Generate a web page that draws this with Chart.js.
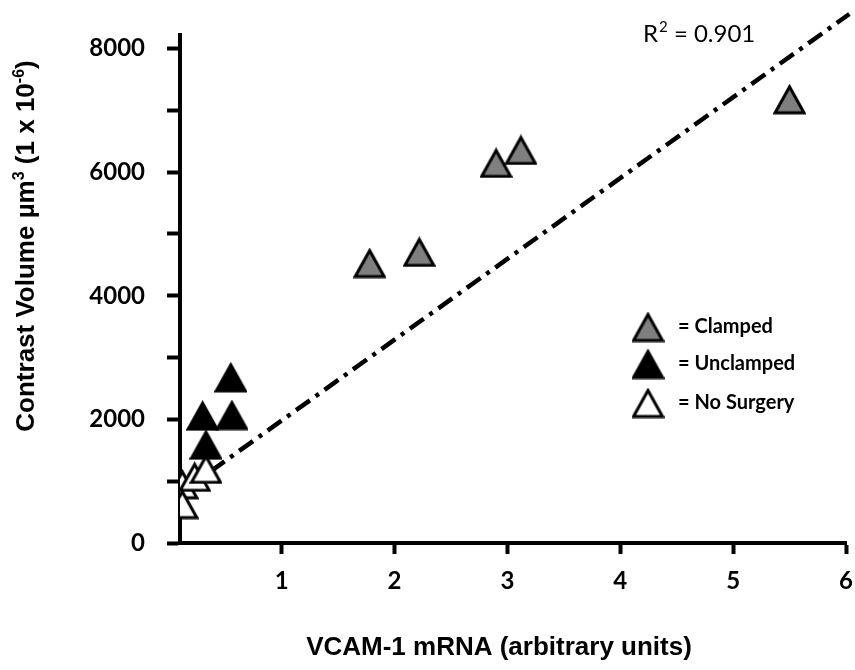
<!DOCTYPE html>
<html>
<head>
<meta charset="utf-8">
<script src="https://cdn.jsdelivr.net/npm/chart.js@4/dist/chart.umd.min.js"></script>
<style>
  html, body { margin: 0; padding: 0; background: #fff; }
  #wrap { width: 855px; height: 670px; }
</style>
</head>
<body>
<div id="wrap"><canvas id="grafica" width="855" height="670"></canvas></div>
<script>
// ── Datos ───────────────────────────────────────────────────────────────
const clampedX = [1.78, 2.22, 2.90, 3.12, 5.50];
const clampedY = [4530, 4710, 6150, 6360, 7180];

const unclampedX = [0.55, 0.30, 0.56, 0.33];
const unclampedY = [2680, 2060, 2070, 1590];

const noSurgeryX = [0.12, 0.23, 0.33, 0.12];
const noSurgeryY = [950, 1070, 1200, 630];

// línea de tendencia (extremos)
const trendX = [0.12, 6.03];
const trendY = [830, 8560];

const xTickValues = [1, 2, 3, 4, 5, 6];
const yTickValues = [0, 1000, 2000, 3000, 4000, 5000, 6000, 7000, 8000];
const yTickLabels = ['0', '', '2000', '', '4000', '', '6000', '', '8000'];

const seriesNames = ['= Clamped', '= Unclamped', '= No Surgery'];
const rSquaredText = '0.901';
const xTitle = 'VCAM-1 mRNA (arbitrary units)';

// ── Marcadores triangulares ─────────────────────────────────────────────
function crearTriangulo(relleno, w, h, lw) {
    const c = document.createElement('canvas');
    c.width = w;
    c.height = h;
    const g = c.getContext('2d');
    const m = lw / 2 + 0.5;
    g.beginPath();
    g.moveTo(w / 2, m + 1);
    g.lineTo(w - m, h - m);
    g.lineTo(m, h - m);
    g.closePath();
    g.fillStyle = relleno;
    g.fill();
    g.lineWidth = lw;
    g.lineJoin = 'miter';
    g.strokeStyle = '#000';
    g.stroke();
    return c;
}

const triGris = crearTriangulo('#7f7f7f', 33, 31, 3);
const triNegro = crearTriangulo('#000000', 33, 31, 3);
const triBlanco = crearTriangulo('#ffffff', 33, 31, 3);

const puntos = (xs, ys) => xs.map((x, i) => ({ x, y: ys[i] }));

// ── Textos extra (títulos, R², leyenda) ────────────────────────────────
function dibujarTramos(ctx, tramos, cx, baseY, familia, peso) {
    let total = 0;
    tramos.forEach(t => {
        ctx.font = `${peso} ${t.size}px ${familia}`;
        t.w = ctx.measureText(t.text).width;
        total += t.w;
    });
    let x = cx - total / 2;
    ctx.textAlign = 'left';
    ctx.textBaseline = 'alphabetic';
    tramos.forEach(t => {
        ctx.font = `${peso} ${t.size}px ${familia}`;
        ctx.fillText(t.text, x, baseY - (t.rise || 0));
        x += t.w;
    });
}

const textosPlugin = {
    id: 'textos',
    afterDraw(chart) {
        const ctx = chart.ctx;
        ctx.save();
        ctx.fillStyle = '#000';

        // título eje X
        dibujarTramos(ctx, [{ text: xTitle, size: 26 }], 499, 655, '"Liberation Sans", Arial, sans-serif', 'bold');

        // título eje Y (rotado)
        ctx.save();
        ctx.translate(0, 246);
        ctx.rotate(-Math.PI / 2);
        dibujarTramos(ctx, [
            { text: 'Contrast Volume µm', size: 26 },
            { text: '3', size: 16, rise: 10 },
            { text: ' (1 x 10', size: 26 },
            { text: '-6', size: 16, rise: 10 },
            { text: ')', size: 26 },
        ], 0, 34, '"Liberation Sans", Arial, sans-serif', 'bold');
        ctx.restore();

        // R²
        ctx.font = '24px Lato, sans-serif';
        ctx.textAlign = 'left';
        ctx.textBaseline = 'alphabetic';
        ctx.fillText('R', 643, 42);
        let x = 643 + ctx.measureText('R').width;
        ctx.font = '15px Lato, sans-serif';
        ctx.fillText('2', x + 1, 32);
        x += ctx.measureText('2').width + 1;
        ctx.font = '24px Lato, sans-serif';
        ctx.fillText(' = ' + rSquaredText, x, 42);

        // leyenda
        const imgs = [triGris, triNegro, triBlanco];
        const centrosY = [327, 364, 403];
        ctx.font = 'bold 20px Lato, sans-serif';
        imgs.forEach((img, i) => {
            ctx.drawImage(img, 648 - img.width / 2, centrosY[i] - img.height / 2);
            ctx.fillText(seriesNames[i], 678, centrosY[i] + 6);
        });
        ctx.restore();
    },
};

// ── Gráfica ─────────────────────────────────────────────────────────────
const fuenteTicks = { family: 'Lato, sans-serif', size: 24, weight: 'bold' };

new Chart(document.getElementById('grafica'), {
    type: 'scatter',
    data: {
        datasets: [
            {
                label: 'Clamped',
                data: puntos(clampedX, clampedY),
                pointStyle: triGris,
                order: 3,
            },
            {
                label: 'Unclamped',
                data: puntos(unclampedX, unclampedY),
                pointStyle: triNegro,
                order: 2,
            },
            {
                label: 'No Surgery',
                data: puntos(noSurgeryX, noSurgeryY),
                pointStyle: triBlanco,
                order: 1,
            },
            {
                label: 'Tendencia',
                data: puntos(trendX, trendY),
                showLine: true,
                borderColor: '#000',
                borderWidth: 4.5,
                borderDash: [17, 7, 4, 7],
                pointRadius: 0,
                clip: false,
                order: 10,
            },
        ],
    },
    options: {
        responsive: false,
        animation: false,
        devicePixelRatio: 1,
        layout: { padding: { top: 35, right: 9, left: 0, bottom: 0 } },
        plugins: {
            legend: { display: false },
            tooltip: { enabled: false },
        },
        scales: {
            x: {
                type: 'linear',
                min: 0.1,
                max: 6,
                afterBuildTicks: s => { s.ticks = xTickValues.map(v => ({ value: v })); },
                afterFit: s => {
                    s.height = 127;
                    s.paddingLeft = 0;
                    s.paddingRight = 0;
                },
                ticks: {
                    color: '#000',
                    font: fuenteTicks,
                    padding: 13,
                    callback: v => String(v),
                },
                grid: {
                    drawOnChartArea: false,
                    drawTicks: true,
                    tickLength: 11,
                    tickWidth: 4,
                    tickColor: '#000',
                },
                border: { color: '#000', width: 4 },
            },
            y: {
                type: 'linear',
                min: 0,
                max: 8220,
                afterBuildTicks: s => { s.ticks = yTickValues.map(v => ({ value: v })); },
                afterFit: s => {
                    s.width = 180;
                    s.paddingTop = 0;
                    s.paddingBottom = 0;
                },
                ticks: {
                    color: '#000',
                    font: fuenteTicks,
                    padding: 22,
                    callback: (v, i) => yTickLabels[i],
                },
                grid: {
                    drawOnChartArea: false,
                    drawTicks: true,
                    tickLength: 13,
                    tickWidth: 4,
                    tickColor: '#000',
                },
                border: { color: '#000', width: 4 },
            },
        },
    },
    plugins: [textosPlugin],
});
</script>
</body>
</html>
